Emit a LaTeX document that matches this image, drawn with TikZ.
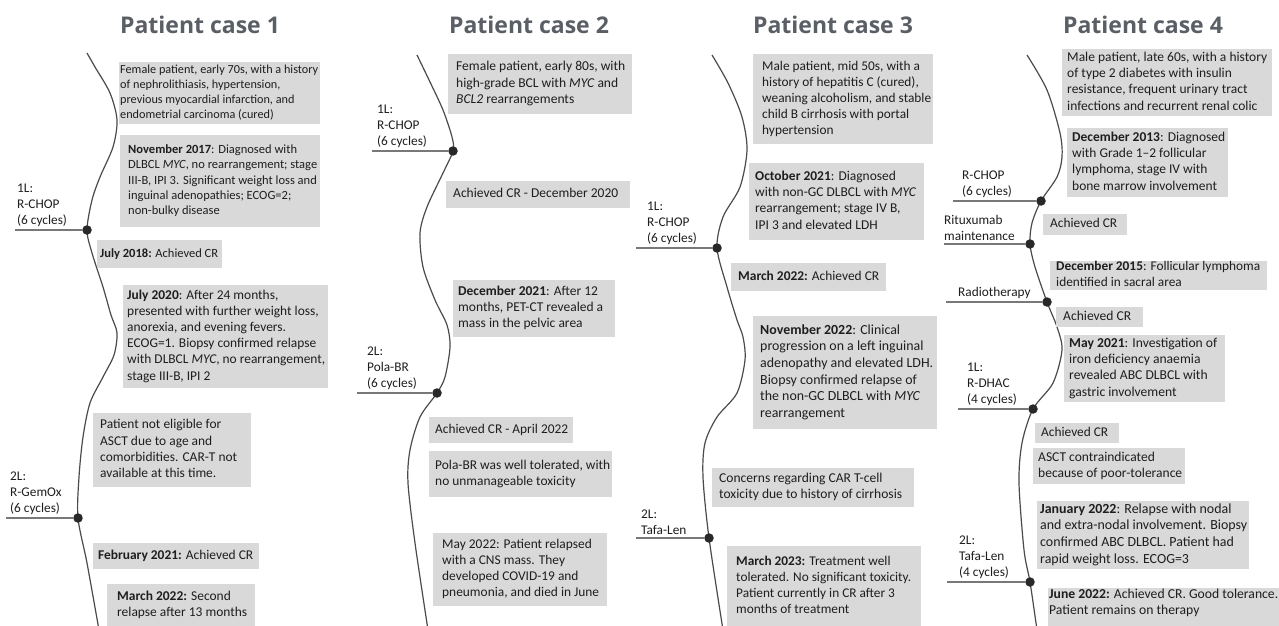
\documentclass[tikz,border=0pt]{standalone}
\usepackage{graphicx}
\usepackage{fontspec}
\setmainfont{Carlito}
\newfontfamily\titlefont{Open Sans}
\definecolor{boxgray}{RGB}{217,217,217}
\definecolor{titlegray}{RGB}{90,94,101}
\definecolor{txt}{RGB}{30,30,30}
\definecolor{spinec}{RGB}{75,75,75}
\definecolor{hlinec}{RGB}{120,120,120}
\definecolor{dotc}{RGB}{40,40,40}
\tikzset{
  gbox/.style={rectangle,fill=boxgray,draw=none,inner sep=0pt},
  btext/.style={align=left,inner sep=0pt,text=txt,font=\fontsize{13.3}{16}\selectfont},
  lbl/.style={align=left,inner sep=0pt,text=txt,font=\fontsize{13.3}{16}\selectfont},
  ttl/.style={inner sep=0pt,text=titlegray,font=\titlefont\bfseries\fontsize{23}{26}\selectfont},
  spine/.style={draw=spinec,line width=1.2pt},
  hline/.style={draw=hlinec,line width=1.3pt},
  dot/.style={circle,fill=dotc,inner sep=0pt,minimum size=9.5pt},
}
% [text opts]{name}{x1}{y1}{x2}{y2}{text left}{text right}{text}
\newcommand\mybox[9][]{%
  \pgfmathsetmacro\bw{#5-#3}\pgfmathsetmacro\bh{#6-#4}%
  \pgfmathsetmacro\bcy{(#4+#6)/2}\pgfmathsetmacro\tw{#8-#7}%
  \node[gbox,minimum width=\bw pt,minimum height=\bh pt,anchor=north west] (#2) at (#3,#4) {};
  \node[btext,anchor=west,#1] (#2t) at (#7,\bcy) {\resizebox{\tw pt}{!}{\begin{tabular}{@{}l@{}}#9\end{tabular}}};}
\begin{document}
\begin{tikzpicture}[x=1pt,y=-1pt]
\useasboundingbox[fill=white] (0,0) rectangle (1279,626);
% titles
\node[ttl] (t1) at (200,25) {Patient case 1};
\node[ttl] (t2) at (529,25) {Patient case 2};
\node[ttl] (t3) at (833,25) {Patient case 3};
\node[ttl] (t4) at (1143,25) {Patient case 4};
% spines
\draw[spine] plot[smooth] coordinates {(87,53) (95,67) (110,93) (117,120) (113,147) (100,177) (92,200) (87,230) (92,253) (103,287) (111,315) (117,333) (114,355) (103,377) (90,403) (83,437) (79,477) (78,518) (87,563) (99,630)};
\draw[spine] plot[smooth] coordinates {(417,55) (430,82) (443,110) (452,137) (453,151) (443,173) (427,207) (420,233) (423,267) (435,300) (447,325) (450,347) (445,377) (437,393) (420,417) (410,450) (408,483) (415,543) (428,630)};
\draw[spine] plot[smooth] coordinates {(712,55) (728,83) (742,117) (747,150) (740,187) (723,217) (717,248) (727,287) (737,320) (743,337) (745,360) (737,393) (717,417) (705,443) (703,477) (709,538) (723,630)};
\draw[spine] plot[smooth] coordinates {(1027,55) (1047,90) (1060,133) (1062,157) (1057,177) (1041,201) (1032,223) (1030,244) (1035,267) (1047,302) (1057,327) (1062,350) (1053,383) (1033,409) (1022,443) (1019,483) (1024,550) (1030,582) (1037,630)};
% dots
\node[dot] (d1a) at (87,230) {};
\node[dot] (d1b) at (78,518) {};
\node[dot] (d2a) at (453,151) {};
\node[dot] (d2b) at (437,393) {};
\node[dot] (d3a) at (717,248) {};
\node[dot] (d3b) at (709,538) {};
\node[dot] (d4a) at (1041,201) {};
\node[dot] (d4b) at (1030,244) {};
\node[dot] (d4c) at (1047,302) {};
\node[dot] (d4d) at (1033,409) {};
\node[dot] (d4e) at (1030,582) {};
% line starts
\coordinate (s1a) at (15,230);
\coordinate (s1b) at (6,518);
\coordinate (s2a) at (372,151);
\coordinate (s2b) at (357,393);
\coordinate (s3a) at (636,248);
\coordinate (s3b) at (636,538);
\coordinate (s4a) at (953,201);
\coordinate (s4b) at (944,244);
\coordinate (s4c) at (946,302);
\coordinate (s4d) at (958,409);
\coordinate (s4e) at (947,582);
\foreach \a/\b in {s1a/d1a,s1b/d1b,s2a/d2a,s2b/d2b,s3a/d3a,s3b/d3b,s4a/d4a,s4b/d4b,s4c/d4c,s4d/d4d,s4e/d4e}
  \draw[hline] (\a) -- (\b);
% treatment labels
\node[lbl,anchor=south west] (l1a) at (17,227) {1L:\\R-CHOP\\(6 cycles)};
\node[lbl,anchor=south west] (l1b) at (10,515) {2L:\\R-GemOx\\(6 cycles)};
\node[lbl,anchor=south west] (l2a) at (377,148) {1L:\\R-CHOP\\(6 cycles)};
\node[lbl,anchor=south west] (l2b) at (367,390) {2L:\\Pola-BR\\(6 cycles)};
\node[lbl,anchor=south west] (l3a) at (647,245) {1L:\\R-CHOP\\(6 cycles)};
\node[lbl,anchor=south west] (l3b) at (641,535) {2L:\\Tafa-Len};
\node[lbl,anchor=south west] (l4a) at (962,198) {R-CHOP\\(6 cycles)};
\node[lbl,anchor=south west] (l4b) at (944,241) {Rituxumab\\maintenance};
\node[lbl,anchor=south west] (l4c) at (958,299) {Radiotherapy};
\node[lbl,anchor=south west] (l4d) at (967,406) {1L:\\R-DHAC\\(4 cycles)};
\node[lbl,anchor=south west] (l4e) at (959,579) {2L:\\Tafa-Len\\(4 cycles)};
% case 1 boxes
\mybox{b1a}{119}{62}{320}{124}{120}{318}{Female patient, early 70s, with a history\\of nephrolithiasis, hypertension,\\previous myocardial infarction, and\\endometrial carcinoma (cured)}
\mybox{b1b}{120}{135}{320}{227}{128}{317}{\textbf{November 2017}: Diagnosed with\\DLBCL \textit{MYC}, no rearrangement; stage\\III-B, IPI 3. Significant weight loss and\\inguinal adenopathies; ECOG=2;\\non-bulky disease}
\mybox{b1c}{97}{240}{222}{268}{100}{218}{\textbf{July 2018:} Achieved CR}
\mybox{b1d}{123}{285}{328}{388}{127}{325}{\textbf{July 2020}: After 24 months,\\presented with further weight loss,\\anorexia, and evening fevers.\\ECOG=1. Biopsy confirmed relapse\\with DLBCL \textit{MYC}, no rearrangement,\\stage III-B, IPI 2}
\mybox{b1e}{93}{413}{251}{487}{100}{237}{Patient not eligible for\\ASCT due to age and\\comorbidities. CAR-T not\\available at this time.}
\mybox{b1f}{93}{543}{259}{569}{98}{253}{\textbf{February 2021:} Achieved CR}
\mybox[yshift=7pt]{b1g}{107}{584}{255}{640}{117}{247}{\textbf{March 2022:} Second\\relapse after 13 months}
% case 2 boxes
\mybox{b2a}{448}{54}{632}{114}{456}{625}{Female patient, early 80s, with\\high-grade BCL with \textit{MYC} and\\\textit{BCL2} rearrangements}
\mybox{b2b}{446}{181}{630}{208}{453}{618}{Achieved CR - December 2020}
\mybox{b2c}{453}{280}{615}{337}{458}{603}{\textbf{December 2021}: After 12\\months, PET-CT revealed a\\mass in the pelvic area}
\mybox{b2d}{429}{417}{573}{443}{435}{568}{Achieved CR - April 2022}
\mybox{b2e}{429}{451}{612}{497}{435}{610}{Pola-BR was well tolerated, with\\no unmanageable toxicity}
\mybox{b2f}{433}{533}{607}{606}{442}{599}{May 2022: Patient relapsed\\with a CNS mass. They\\developed COVID-19 and\\pneumonia, and died in June}
% case 3 boxes
\mybox{b3a}{753}{54}{933}{144}{762}{931}{Male patient, mid 50s, with a\\history of hepatitis C (cured),\\weaning alcoholism, and stable\\child B cirrhosis with portal\\hypertension}
\mybox{b3b}{749}{163}{924}{240}{755}{916}{\textbf{October 2021}: Diagnosed\\with non-GC DLBCL with \textit{MYC}\\rearrangement; stage IV B,\\IPI 3 and elevated LDH}
\mybox{b3c}{731}{263}{886}{291}{738}{879}{\textbf{March 2022:} Achieved CR}
\mybox{b3d}{753}{316}{937}{429}{760}{933}{\textbf{November 2022}: Clinical\\progression on a left inguinal\\adenopathy and elevated LDH.\\Biopsy confirmed relapse of\\the non-GC DLBCL with \textit{MYC}\\rearrangement}
\mybox{b3e}{712}{468}{914}{507}{719}{902}{Concerns regarding CAR T-cell\\toxicity due to history of cirrhosis}
\mybox{b3f}{727}{546}{921}{626}{736}{911}{\textbf{March 2023:} Treatment well\\tolerated. No significant toxicity.\\Patient currently in CR after 3\\months of treatment}
% case 4 boxes
\mybox{b4a}{1062}{49}{1272}{116}{1067}{1267}{Male patient, late 60s, with a history\\of type 2 diabetes with insulin\\resistance, frequent urinary tract\\infections and recurrent renal colic}
\mybox{b4b}{1067}{128}{1228}{197}{1072}{1225}{\textbf{December 2013}: Diagnosed\\with Grade 1--2 follicular\\lymphoma, stage IV with\\bone marrow involvement}
\mybox{b4c}{1043}{214}{1127}{235}{1050}{1117}{Achieved CR}
\mybox{b4d}{1050}{261}{1267}{290}{1056}{1260}{\textbf{December 2015}: Follicular lymphoma\\identified in sacral area}
\mybox{b4e}{1056}{307}{1143}{327}{1063}{1131}{Achieved CR}
\mybox{b4f}{1064}{335}{1225}{402}{1069}{1217}{\textbf{May 2021}: Investigation of\\iron deficiency anaemia\\revealed ABC DLBCL with\\gastric involvement}
\mybox{b4g}{1035}{423}{1119}{443}{1041}{1108}{Achieved CR}
\mybox{b4h}{1033}{448}{1185}{484}{1038}{1182}{ASCT contraindicated\\because of poor-tolerance}
\mybox{b4i}{1037}{501}{1249}{569}{1040}{1247}{\textbf{January 2022}: Relapse with nodal\\and extra-nodal involvement. Biopsy\\confirmed ABC DLBCL. Patient had\\rapid weight loss. ECOG=3}
\mybox[yshift=11pt]{b4j}{1048}{588}{1285}{640}{1049}{1278}{\textbf{June 2022:} Achieved CR. Good tolerance.\\Patient remains on therapy}
\end{tikzpicture}
\end{document}
